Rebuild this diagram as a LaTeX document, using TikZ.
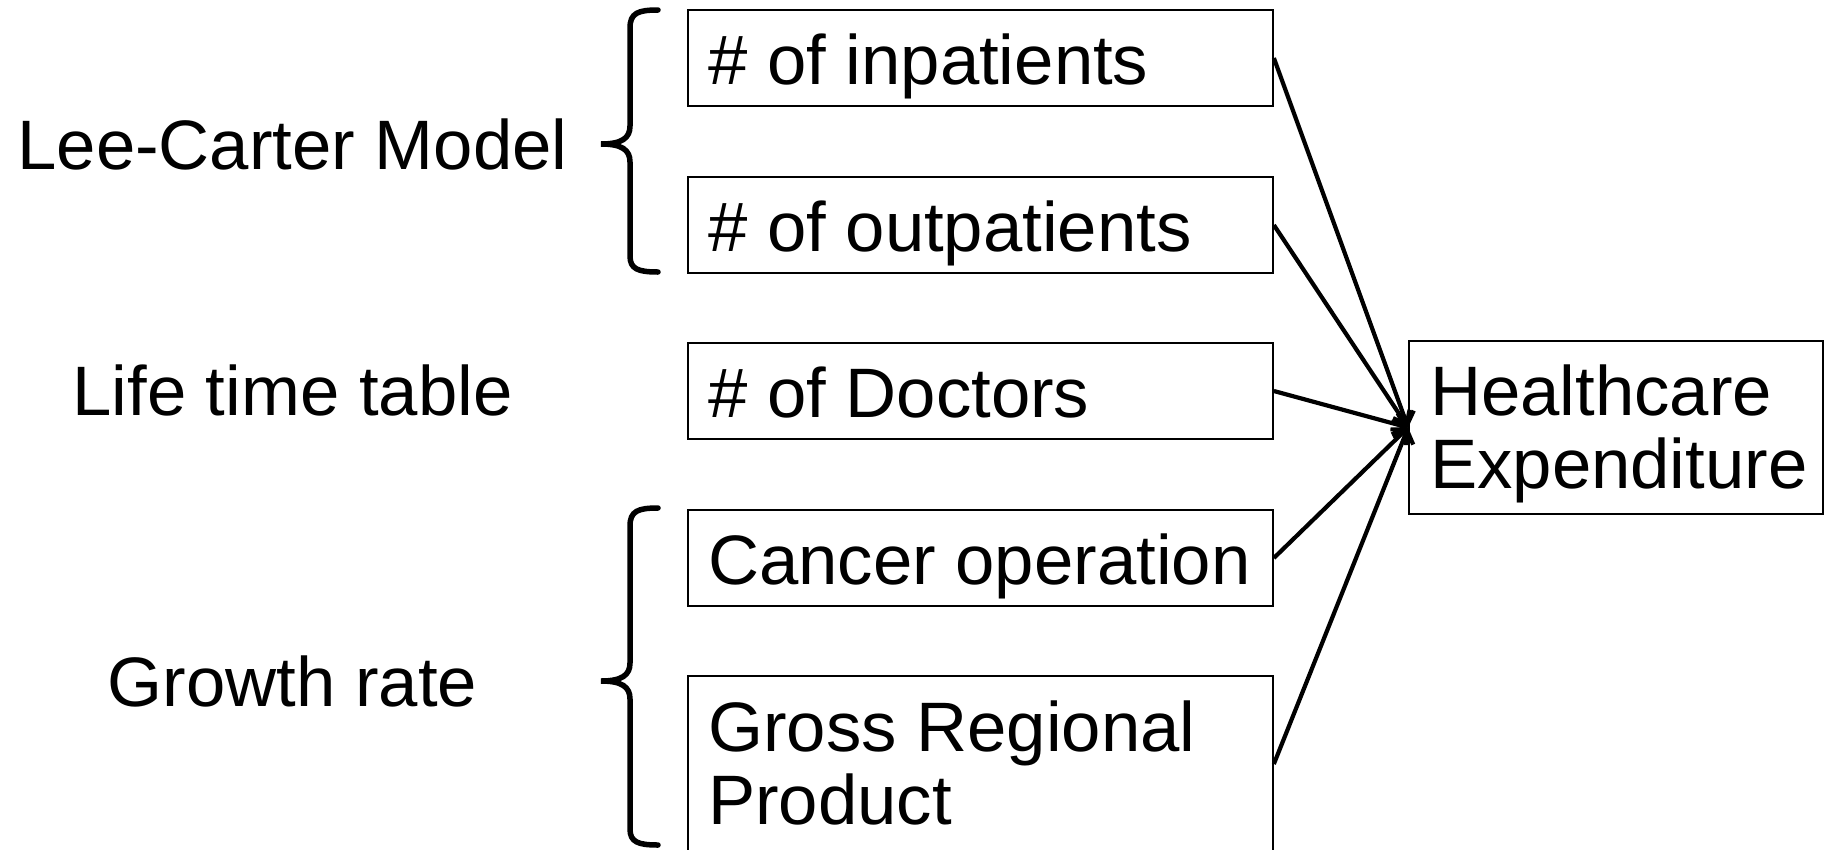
\documentclass[tikz,border=0pt]{standalone}
\usepackage{fontspec}
\setmainfont{Liberation Sans}[FakeStretch=1.01]
\usetikzlibrary{arrows.meta}
\begin{document}
\begin{tikzpicture}[x=1pt,y=-1pt,
  box/.style={draw, line width=1.7pt, inner sep=0pt},
  lbl/.style={inner sep=0pt, font=\fontsize{70}{73}\selectfont},
  conn/.style={line width=4.2pt, -{Straight Barb[length=11pt,width=22pt]}},
  brace/.style={line width=5.5pt, line cap=round}]
\path[use as bounding box] (0,0) rectangle (1825,849);

% boxes
\node[box, minimum width=585pt, minimum height=96pt] (b1) at (980.5,58) {};
\node[box, minimum width=585pt, minimum height=96pt] (b2) at (980.5,225) {};
\node[box, minimum width=585pt, minimum height=96pt] (b3) at (980.5,391) {};
\node[box, minimum width=585pt, minimum height=96pt] (b4) at (980.5,558) {};
\node[box, minimum width=585pt, minimum height=176pt] (b5) at (980.5,764) {};
\node[box, minimum width=414pt, minimum height=173pt] (H) at (1616,427.5) {};

% box texts
\node[lbl, anchor=base west] (t1) at (708,84) {\# of inpatients};
\node[lbl, anchor=base west] (t2) at (708,251) {\# of outpatients};
\node[lbl, anchor=base west] (t3) at (708,417) {\# of Doctors};
\node[lbl, anchor=base west] (t4) at (708,584) {Cancer operation};
\node[lbl, anchor=north west, align=left] (t5) at (708,701) {Gross Regional\\Product};
\node[lbl, anchor=north west, align=left] (tH) at (1430,365) {Healthcare\\Expenditure};

% left labels
\node[lbl, anchor=base] (l1) at (292.5,169) {Lee-Carter Model};
\node[lbl, anchor=base] (l2) at (292.5,415) {Life time table};
\node[lbl, anchor=base] (l3) at (292.5,706) {Growth rate};

% braces
\draw[brace] (658,10) .. controls (638,10) and (630,13) .. (630,28) -- (630,126)
  .. controls (630,138) and (622,144) .. (601,144)
  .. controls (622,144) and (630,150) .. (630,162) -- (630,256)
  .. controls (630,269) and (638,272) .. (658,272);
\draw[brace] (658,508) .. controls (638,508) and (630,511) .. (630,526) -- (630,663)
  .. controls (630,675) and (622,681) .. (601,681)
  .. controls (622,681) and (630,687) .. (630,699) -- (630,829)
  .. controls (630,842) and (638,845) .. (658,845);

% connectors
\draw[conn] (b1.east) -- (H.west);
\draw[conn] (b2.east) -- (H.west);
\draw[conn] (b3.east) -- (H.west);
\draw[conn] (b4.east) -- (H.west);
\draw[conn] (b5.east) -- (H.west);
\end{tikzpicture}
\end{document}
